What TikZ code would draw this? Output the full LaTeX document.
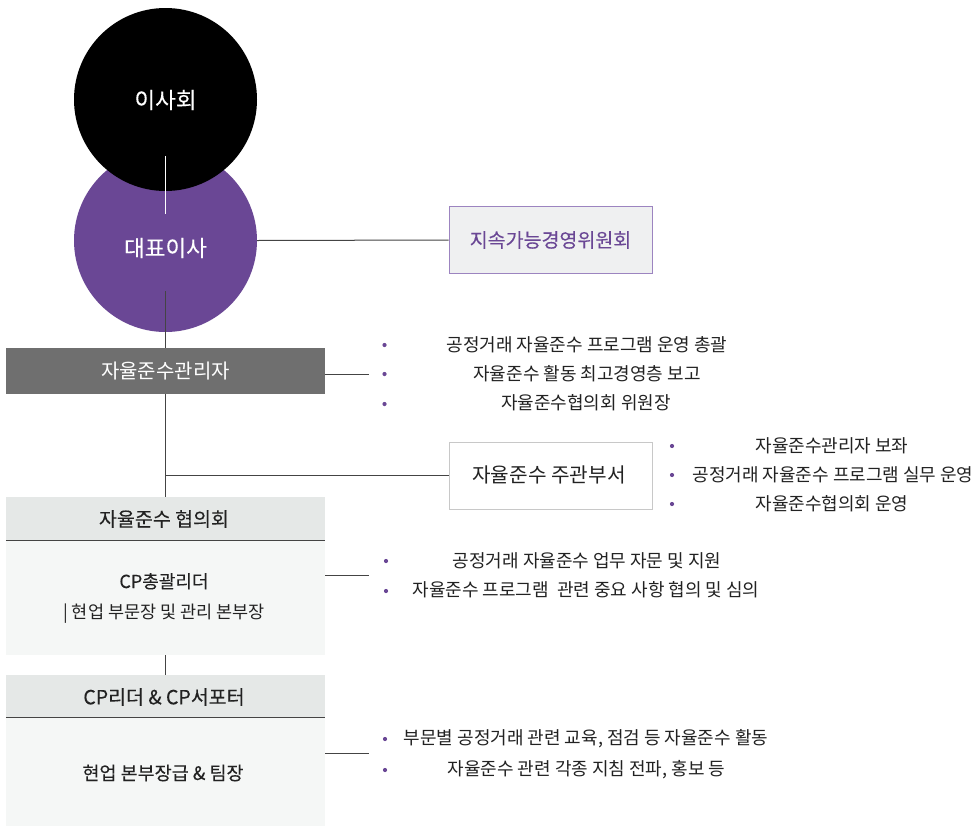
\documentclass[tikz,border=0pt]{standalone}
\usepackage{fontspec}
\setmainfont{Noto Sans CJK KR}
\newfontfamily\krmed{Noto Sans CJK KR}[FakeBold=0.15]
\definecolor{cpurple}{HTML}{6A4795}
\definecolor{susfill}{HTML}{EFF0F1}
\definecolor{susborder}{HTML}{9C84C0}
\definecolor{mgrfill}{HTML}{6F6F6F}
\definecolor{deptborder}{HTML}{C8C8C8}
\definecolor{headfill}{HTML}{E5E8E7}
\definecolor{bodyfill}{HTML}{F5F7F6}
\definecolor{lineclr}{HTML}{444444}
\definecolor{txt}{HTML}{222222}
\begin{document}
\begin{tikzpicture}[x=1pt,y=-1pt,
  conn/.style={draw=lineclr,line width=1pt},
  circ/.style={circle,minimum size=183pt,inner sep=0pt,draw=none},
  ctext/.style={text=white,inner sep=0pt,font=\krmed\fontsize{22.5}{24}\selectfont},
  boxtext/.style={inner sep=0pt,text=txt,font=\fontsize{20}{22}\selectfont},
  bodytext/.style={inner sep=0pt,text=txt,align=center,font=\fontsize{17.5}{30}\selectfont},
  bultext/.style={inner sep=0pt,text=txt,font=\fontsize{18}{20}\selectfont},
  dot/.style={circle,fill=cpurple,minimum size=4.2pt,inner sep=0pt},
]
\useasboundingbox (0,0) rectangle (973,827);
\fill[white] (0,0) rectangle (973,827);

% circles
\node[circ,fill=cpurple] (ceo) at (165.5,240.5) {};
\node[circ,fill=black] (board) at (165.5,99.5) {};
\node[ctext] (boardt) at (165.5,100) {이사회};
\node[ctext] (ceot) at (165.5,248) {대표이사};
\coordinate (w1) at (165.5,156);
\coordinate (w2) at (165.5,214);
\draw[white,line width=1pt] (w1) -- (w2);

% sustainability committee
\node[draw=susborder,fill=susfill,line width=1pt,minimum width=203pt,minimum height=67pt,inner sep=0pt,
  text=cpurple,font=\krmed\fontsize{19.5}{21}\selectfont] (sus) at (550.5,240) {지속가능경영위원회};
\draw[conn] (ceo.east) -- (sus.west);

% compliance manager
\node[fill=mgrfill,minimum width=319pt,minimum height=46pt,inner sep=0pt] (mgr) at (165.5,371) {};
\node[boxtext,text=white] (mgrt) at (165.5,371) {자율준수관리자};
\coordinate (c1) at (165.5,291);
\draw[conn] (c1) -- (mgr.north);

% manager bullets
\coordinate (m1) at (369,374.3);
\draw[conn] (mgr.east|-m1) -- (m1);
\node[dot] (mb1) at (384.5,345) {};
\node[dot] (mb2) at (384.5,374) {};
\node[dot] (mb3) at (384.5,404) {};
\node[bultext] (mt1) at (587,345) {공정거래 자율준수 프로그램 운영 총괄};
\node[bultext] (mt2) at (587,374) {자율준수 활동 최고경영층 보고};
\node[bultext] (mt3) at (586,403) {자율준수협의회 위원장};

% department
\node[draw=deptborder,fill=white,line width=1pt,minimum width=203pt,minimum height=67pt,inner sep=0pt] (dept) at (550.5,475.5) {};
\node[boxtext,font=\fontsize{20.2}{22}\selectfont] (deptt) at (549,475) {자율준수 주관부서};
\coordinate (j1) at (165.5,475.5);
\draw[conn] (j1) -- (dept.west);

\node[dot] (db1) at (672,446) {};
\node[dot] (db2) at (672,475) {};
\node[dot] (db3) at (672,504) {};
\node[bultext] (dt1) at (832,446) {자율준수관리자 보좌};
\node[bultext] (dt2) at (833,475) {공정거래 자율준수 프로그램 실무 운영};
\node[bultext] (dt3) at (832,504) {자율준수협의회 운영};

% council
\node[fill=headfill,minimum width=319pt,minimum height=43.5pt,inner sep=0pt] (ch) at (165.5,518.75) {};
\node[fill=bodyfill,minimum width=319pt,minimum height=115pt,inner sep=0pt] (cb) at (165.5,597.5) {};
\draw[draw=lineclr,line width=1.2pt] (ch.south west) -- (ch.south east);
\node[boxtext,font=\krmed\fontsize{19.5}{22}\selectfont] (cht) at (164,519) {자율준수 협의회};
\node[bodytext] (cbt) at (164,598) {\krmed\fontsize{18}{30}\selectfont CP총괄리더\\ \fontsize{17.5}{30}\selectfont | 현업 부문장 및 관리 본부장};
\draw[conn] (mgr.south) -- (ch.north);

\coordinate (k1) at (369,575);
\draw[conn] (cb.east|-k1) -- (k1);
\node[dot] (cb1) at (386,561) {};
\node[dot] (cb2) at (386,591) {};
\node[bultext] (ct1) at (587,561) {공정거래 자율준수 업무 자문 및 지원};
\node[bultext] (ct2) at (586,590) {자율준수 프로그램\ \ 관련 중요 사항 협의 및 심의};

% leaders
\node[fill=headfill,minimum width=319pt,minimum height=42pt,inner sep=0pt] (lh) at (165.5,696) {};
\node[fill=bodyfill,minimum width=319pt,minimum height=109pt,inner sep=0pt] (lb) at (165.5,771.5) {};
\draw[draw=lineclr,line width=1.2pt] (lh.south west) -- (lh.south east);
\node[boxtext,font=\krmed\fontsize{19.5}{22}\selectfont] (lht) at (164,697) {CP리더 \& CP서포터};
\node[boxtext,font=\krmed\fontsize{18.5}{22}\selectfont] (lbt) at (163,773) {현업 본부장급 \& 팀장};
\draw[conn] (cb.south) -- (lh.north);

\coordinate (n1) at (369,753);
\draw[conn] (lb.east|-n1) -- (n1);
\node[dot] (lb1) at (385,739) {};
\node[dot] (lb2) at (385,770) {};
\node[bultext] (lt1) at (586,739) {부문별 공정거래 관련 교육, 점검 등 자율준수 활동};
\node[bultext] (lt2) at (586.5,770) {자율준수 관련 각종 지침 전파, 홍보 등};
\end{tikzpicture}
\end{document}
